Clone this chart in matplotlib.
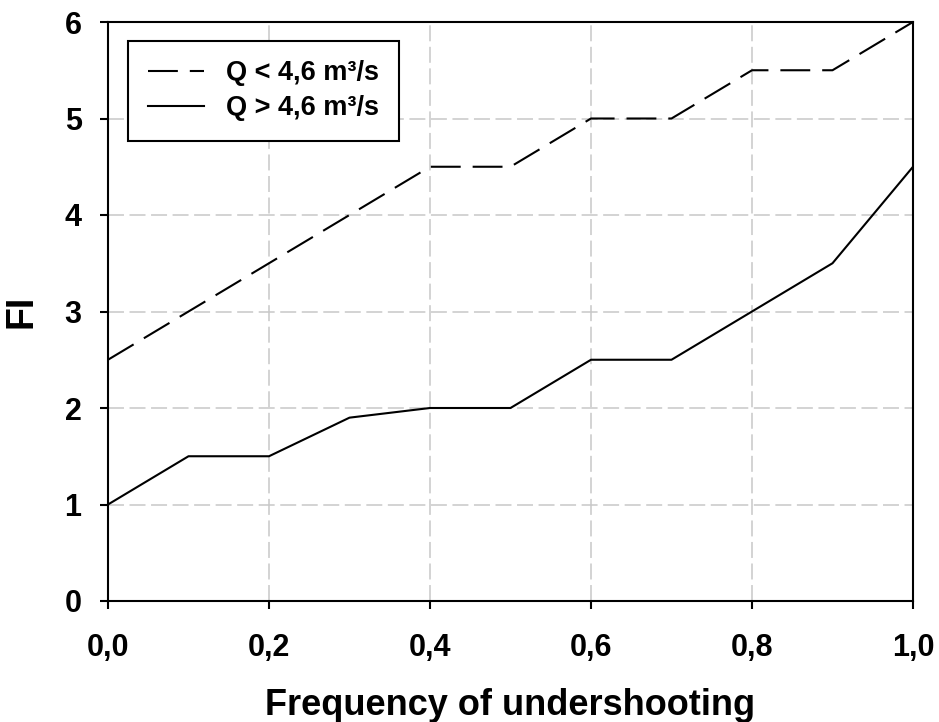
import matplotlib
matplotlib.use("Agg")
import matplotlib.pyplot as plt

plt.rcParams['font.family'] = ['Liberation Sans', 'DejaVu Sans']
plt.rcParams['font.weight'] = 'bold'
plt.rcParams['lines.scale_dashes'] = False

freq = [0.0, 0.1, 0.2, 0.3, 0.4, 0.5, 0.6, 0.7, 0.8, 0.9, 1.0]
fi_low_q = [2.5, 3.0, 3.5, 4.0, 4.5, 4.5, 5.0, 5.0, 5.5, 5.5, 6.0]
fi_high_q = [1.0, 1.5, 1.5, 1.9, 2.0, 2.0, 2.5, 2.5, 3.0, 3.5, 4.5]
label_low = "Q < 4,6 m³/s"
label_high = "Q > 4,6 m³/s"
xticks = [0.0, 0.2, 0.4, 0.6, 0.8, 1.0]
xtick_labels = ["0,0", "0,2", "0,4", "0,6", "0,8", "1,0"]
yticks = [0, 1, 2, 3, 4, 5, 6]

fig = plt.figure(figsize=(9.39, 7.22), dpi=100)
ax = fig.add_axes([108/939, 1-601/722, (913-108)/939, (601-22)/722])

ax.plot(freq, fi_low_q, color='black', lw=1.5, linestyle=(0, (21.5, 8.6)), label=label_low)
ax.plot(freq, fi_high_q, color='black', lw=1.5, linestyle='-', label=label_high)

ax.set_xlim(0, 1)
ax.set_ylim(0, 6)
ax.set_xticks(xticks)
ax.set_xticklabels(xtick_labels)
ax.set_yticks(yticks)
ax.grid(True, color='#c8c8c8', lw=1.1, linestyle=(0, (11.5, 4)))
ax.set_axisbelow(True)
for s in ax.spines.values():
    s.set_linewidth(1.5)
    s.set_color('black')
ax.tick_params(axis='x', direction='out', length=6, width=1.5, labelsize=22, pad=17)
ax.tick_params(axis='y', direction='out', length=6, width=1.5, labelsize=22, pad=13)

ax.set_xlabel("Frequency of undershooting", fontsize=26, fontweight='bold', va='baseline')
ax.xaxis.set_label_coords(0.5, (7 - 121) / 579)
ax.set_ylabel("FI", fontsize=27, fontweight='bold', labelpad=18)

leg = ax.legend(loc='upper left', bbox_to_anchor=(20/805, 1-19/579), fontsize=19.5,
                frameon=True, fancybox=False, edgecolor='black', framealpha=1,
                handlelength=2.1, handletextpad=0.8, borderpad=0.72, labelspacing=0.33,
                borderaxespad=0)
leg.get_frame().set_linewidth(1.5)

fig.savefig("out.png", dpi=100)
